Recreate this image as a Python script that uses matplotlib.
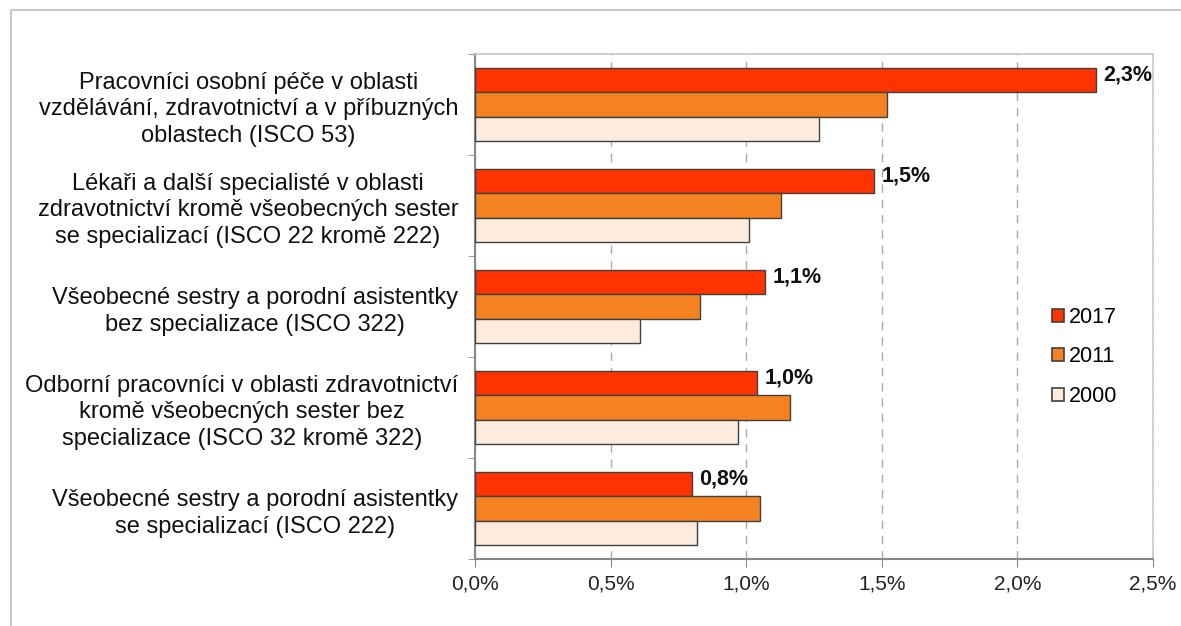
import numpy as np
import matplotlib.pyplot as plt
from matplotlib.patches import Rectangle, Patch

plt.rcParams['font.family'] = ['Liberation Sans', 'DejaVu Sans']

################################################################

categories = [
    'Pracovníci osobní péče v oblasti\nvzdělávání, zdravotnictví a v příbuzných\noblastech (ISCO 53)',
    'Lékaři a další specialisté v oblasti\nzdravotnictví kromě všeobecných sester\nse specializací (ISCO 22 kromě 222)',
    'Všeobecné sestry a porodní asistentky\nbez specializace (ISCO 322)',
    'Odborní pracovníci v oblasti zdravotnictví\nkromě všeobecných sester bez\nspecializace (ISCO 32 kromě 322)',
    'Všeobecné sestry a porodní asistentky\nse specializací (ISCO 222)',
]
years = ['2017', '2011', '2000']
v2017 = [2.29, 1.47, 1.07, 1.04, 0.80]
v2011 = [1.52, 1.13, 0.83, 1.16, 1.05]
v2000 = [1.27, 1.01, 0.61, 0.97, 0.82]
labels_2017 = ['2,3%', '1,5%', '1,1%', '1,0%', '0,8%']
xticks = [0.0, 0.5, 1.0, 1.5, 2.0, 2.5]
xtick_labels = ['0,0%', '0,5%', '1,0%', '1,5%', '2,0%', '2,5%']

colors = ['#FF3300', '#F58220', '#FDEBDD']
edge = '#404040'

################################################################

fig = plt.figure(figsize=(11.81, 6.26), dpi=100)
ax = fig.add_axes([475/1181, 1-559/626, (1153-475)/1181, (559-54)/626])

# outer frame of the chart (only top and left visible)
fig.add_artist(Rectangle((11/1181, -0.2), 1.3, 1.2 - 10/626, transform=fig.transFigure,
                         fill=False, edgecolor='#c8c8c8', linewidth=1.5))

y = np.arange(len(categories))
h = 0.24
series = [v2017, v2011, v2000]
for i, vals in enumerate(series):
    ax.barh(y + (i - 1) * h, vals, height=h, color=colors[i], edgecolor=edge,
            linewidth=1.0, zorder=3, label=years[i])

for yi, val, lab in zip(y, v2017, labels_2017):
    ax.text(val + 0.028, yi - h - 0.05, lab, ha='left', va='center',
            fontsize=15.5, fontweight='bold', color='#111111', zorder=4)

ax.set_xlim(0, 2.5)
ax.set_ylim(len(categories) - 0.5, -0.5)
ax.set_xticks(xticks)
ax.set_xticklabels(xtick_labels, fontsize=15, color='#222222')
ax.set_yticks(y)
ax.set_yticklabels(categories, fontsize=17, multialignment='center', color='#111111',
                   linespacing=1.28)
ax.set_yticks(np.arange(len(categories) + 1) - 0.5, minor=True)
ax.tick_params(axis='y', which='major', length=0, pad=12)
ax.tick_params(axis='y', which='minor', length=5, color='#888888', direction='out')
ax.tick_params(axis='x', length=6, color='#888888', direction='out', pad=5)

ax.grid(axis='x', linestyle=(0, (6, 5)), color='#aaaaaa', linewidth=1.0, zorder=0)
for s in ['top', 'right']:
    ax.spines[s].set_color('#c8c8c8')
    ax.spines[s].set_linewidth(1.2)
for s in ['left', 'bottom']:
    ax.spines[s].set_color('#888888')
    ax.spines[s].set_linewidth(1.5)

handles = [Patch(facecolor=colors[i], edgecolor=edge, linewidth=1.2, label=years[i])
           for i in range(3)]
ax.legend(handles=handles, loc='center left', bbox_to_anchor=(1041/1181, 1-357/626),
          bbox_transform=fig.transFigure, frameon=False, fontsize=15.5, borderpad=0,
          handlelength=0.56, handleheight=0.56, handletextpad=0.25, labelspacing=0.86)

fig.savefig('out.png', dpi=100)
